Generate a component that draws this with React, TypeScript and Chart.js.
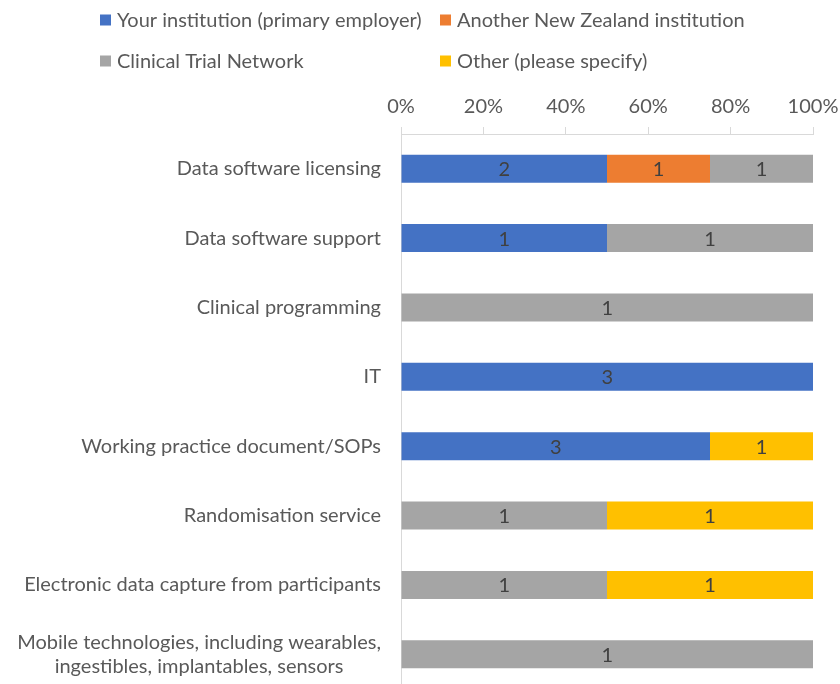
import React, { useEffect, useRef } from 'react';
import { Chart, registerables } from 'chart.js';

Chart.register(...registerables);

const categories: (string | string[])[] = [
  'Data software licensing',
  'Data software support',
  'Clinical programming',
  'IT',
  'Working practice document/SOPs',
  'Randomisation service',
  'Electronic data capture from participants',
  ['Mobile technologies, including wearables,', 'ingestibles, implantables, sensors'],
];

const seriesNames = [
  'Your institution (primary employer)',
  'Another New Zealand institution',
  'Clinical Trial Network',
  'Other (please specify)',
];

const yourInstitution = [2, 1, 0, 3, 3, 0, 0, 0];
const anotherNZInstitution = [1, 0, 0, 0, 0, 0, 0, 0];
const clinicalTrialNetwork = [1, 1, 1, 0, 0, 1, 1, 1];
const otherSpecify = [0, 0, 0, 0, 1, 1, 1, 0];

const xTicks = [0, 20, 40, 60, 80, 100];

const colors = ['#4472C4', '#ED7D31', '#A5A5A5', '#FFC000'];
const FONT = 'Lato';

export default function App() {
  const ref = useRef<HTMLCanvasElement | null>(null);

  useEffect(() => {
    if (!ref.current) return;
    const counts = [yourInstitution, anotherNZInstitution, clinicalTrialNetwork, otherSpecify];
    const totals = categories.map((_, i) => counts.reduce((s, arr) => s + arr[i], 0));

    const labelPlugin = {
      id: 'barLabels',
      afterDatasetsDraw(chart: any) {
        const ctx = chart.ctx;
        ctx.save();
        ctx.font = `20px ${FONT}`;
        ctx.fillStyle = '#404040';
        ctx.textAlign = 'center';
        ctx.textBaseline = 'middle';
        chart.data.datasets.forEach((ds: any, di: number) => {
          const meta = chart.getDatasetMeta(di);
          meta.data.forEach((el: any, i: number) => {
            const c = ds.counts[i];
            if (!c) return;
            ctx.fillText(String(c), (el.x + el.base) / 2, el.y + 1);
          });
        });
        ctx.restore();
      },
    };

    const yLabelPlugin = {
      id: 'yLabels',
      afterDraw(chart: any) {
        const ctx = chart.ctx;
        const yScale = chart.scales.y;
        const right = chart.chartArea.left - 20;
        ctx.save();
        ctx.font = `20px ${FONT}`;
        ctx.fillStyle = '#595959';
        ctx.textBaseline = 'middle';
        ctx.textAlign = 'center';
        const lh = 24;
        chart.data.labels.forEach((lab: any, i: number) => {
          const lines: string[] = Array.isArray(lab) ? lab : [lab];
          const widest = Math.max(...lines.map((l) => ctx.measureText(l).width));
          const cx = right - widest / 2;
          const cy = yScale.getPixelForValue(i);
          lines.forEach((l, k) => {
            ctx.fillText(l, cx, cy + (k - (lines.length - 1) / 2) * lh);
          });
        });
        ctx.restore();
      },
    };

    const legendPlugin = {
      id: 'gridLegend',
      afterDraw(chart: any) {
        const ctx = chart.ctx;
        const cols = [100, 440];
        const rows = [20, 61];
        ctx.save();
        ctx.font = `20px ${FONT}`;
        ctx.textBaseline = 'middle';
        ctx.textAlign = 'left';
        chart.data.datasets.forEach((ds: any, i: number) => {
          const x = cols[i % 2];
          const y = rows[Math.floor(i / 2)];
          ctx.fillStyle = ds.backgroundColor;
          ctx.fillRect(x, y - 5.5, 11, 11);
          ctx.fillStyle = '#595959';
          ctx.fillText(ds.label, x + 17, y + 1);
        });
        ctx.restore();
      },
    };

    const chart = new Chart(ref.current, {
      type: 'bar',
      data: {
        labels: categories as any,
        datasets: counts.map((arr, si) => ({
          label: seriesNames[si],
          data: arr.map((v, i) => (totals[i] ? (v / totals[i]) * 100 : 0)),
          counts: arr,
          backgroundColor: colors[si],
          borderWidth: 0,
          barPercentage: 0.404,
          categoryPercentage: 1,
        })) as any,
      },
      options: {
        indexAxis: 'y',
        responsive: false,
        animation: false,
        layout: { padding: { top: 94, right: 27, left: 0, bottom: 0 } },
        plugins: {
          legend: { display: false },
          tooltip: { enabled: false },
        },
        scales: {
          x: {
            position: 'top',
            stacked: true,
            min: 0,
            max: 100,
            afterBuildTicks: (scale: any) => {
              scale.ticks = xTicks.map((v) => ({ value: v }));
            },
            afterFit: (scale: any) => {
              scale.paddingLeft = 0;
              scale.paddingRight = 0;
              scale.height = 40;
            },
            ticks: {
              callback: (v: any) => `${v}%`,
              color: '#595959',
              font: { family: FONT, size: 20 },
              padding: 8,
              maxRotation: 0,
              minRotation: 0,
            },
            grid: {
              drawOnChartArea: false,
              drawTicks: true,
              tickLength: 7,
              color: '#D9D9D9',
            },
            border: { display: true, color: '#D9D9D9', width: 1 },
          },
          y: {
            stacked: true,
            ticks: { display: false },
            grid: { display: false },
            border: { display: true, color: '#D9D9D9', width: 1 },
            afterFit: (scale: any) => {
              scale.width = 401;
            },
          },
        },
      },
      plugins: [labelPlugin, yLabelPlugin, legendPlugin],
    } as any);

    return () => chart.destroy();
  }, []);

  return (
    <div style={{ position: 'fixed', left: 0, top: 0, width: 840, height: 684, overflow: 'hidden', background: '#fff' }}>
      <canvas ref={ref} width={840} height={689} style={{ display: 'block' }} />
    </div>
  );
}
